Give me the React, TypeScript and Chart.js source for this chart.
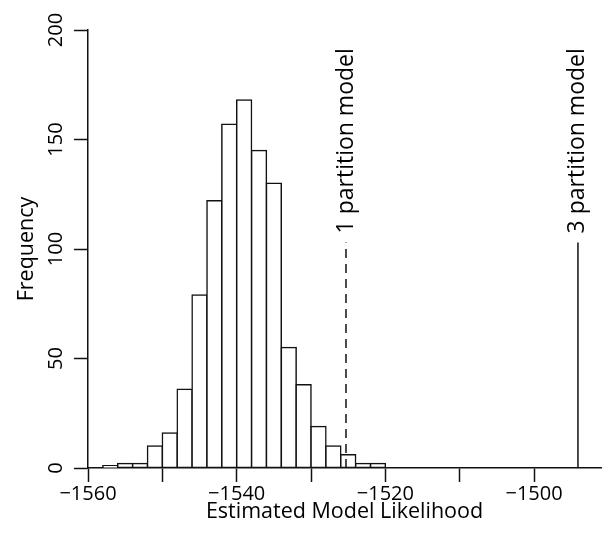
import React, { useEffect, useRef } from 'react';
import { Chart, registerables } from 'chart.js';

Chart.register(...registerables);

// Histogram bins (left edge of each 2-unit bin) and their frequencies
const binStarts = [-1558, -1556, -1554, -1552, -1550, -1548, -1546, -1544, -1542, -1540, -1538, -1536, -1534, -1532, -1530, -1528, -1526, -1524, -1522];
const binWidth = 2;
const frequencies = [1, 2, 2, 10, 16, 36, 79, 122, 157, 168, 145, 130, 55, 38, 19, 10, 6, 2, 2];

// Axis ticks
const xTickValues = [-1560, -1550, -1540, -1530, -1520, -1510, -1500];
const xTickLabels = ['\u22121560', '', '\u22121540', '', '\u22121520', '', '\u22121500'];
const yTickValues = [0, 50, 100, 150, 200];
const yTickLabels = ['0', '50', '100', '150', '200'];

// Reference models
const modelNames = ['1 partition model', '3 partition model'];
const modelLikelihoods = [-1525.3, -1494.1];
const modelLineTop = 103;

const FONT = '"Open Sans", sans-serif';
const LINE_W = 1.5;

export default function App() {
  const ref = useRef<HTMLCanvasElement | null>(null);

  useEffect(() => {
    if (!ref.current) return;

    const labelPlugin = {
      id: 'modelLabels',
      afterDatasetsDraw(chart: any) {
        const { ctx, scales } = chart;
        const x = scales.x;
        const y = scales.y;
        ctx.save();
        ctx.fillStyle = '#000';
        ctx.font = `23px ${FONT}`;
        ctx.textAlign = 'left';
        ctx.textBaseline = 'middle';
        modelNames.forEach((name, i) => {
          const px = x.getPixelForValue(modelLikelihoods[i]);
          const py = y.getPixelForValue(modelLineTop) - 9;
          ctx.save();
          ctx.translate(px, py);
          ctx.rotate(-Math.PI / 2);
          ctx.fillText(name, 0, 0);
          ctx.restore();
        });
        ctx.restore();
      },
    };

    const chart = new Chart(ref.current, {
      type: 'bar',
      data: {
        datasets: [
          {
            type: 'bar',
            data: binStarts.map((s, i) => ({ x: s + binWidth / 2, y: frequencies[i] })),
            backgroundColor: '#ffffff',
            borderColor: '#111111',
            borderWidth: LINE_W,
            inflateAmount: LINE_W / 2,
            borderSkipped: false,
            barPercentage: 1,
            categoryPercentage: 1,
            order: 2,
          } as any,
          {
            type: 'line',
            data: [
              { x: modelLikelihoods[0], y: 0 },
              { x: modelLikelihoods[0], y: modelLineTop },
            ],
            borderColor: '#111111',
            borderWidth: LINE_W,
            borderDash: [9, 6],
            pointRadius: 0,
            fill: false,
            order: 1,
          } as any,
          {
            type: 'line',
            data: [
              { x: modelLikelihoods[1], y: 0 },
              { x: modelLikelihoods[1], y: modelLineTop },
            ],
            borderColor: '#111111',
            borderWidth: LINE_W,
            pointRadius: 0,
            fill: false,
            order: 1,
          } as any,
        ],
      },
      options: {
        responsive: false,
        animation: false,
        devicePixelRatio: 1,
        layout: { padding: { top: 30, right: 1, left: 0, bottom: 0 } },
        plugins: { legend: { display: false }, tooltip: { enabled: false } },
        scales: {
          x: {
            type: 'linear',
            min: -1560,
            max: -1491,
            offset: false,
            afterBuildTicks: (s: any) => {
              s.ticks = xTickValues.map((v) => ({ value: v }));
            },
            afterFit: (s: any) => {
              s.height = 73;
            },
            grid: {
              display: true,
              drawOnChartArea: false,
              drawTicks: true,
              tickLength: 14,
              tickColor: '#111',
              tickWidth: LINE_W,
              offset: false,
            },
            border: { display: true, color: '#111', width: LINE_W },
            ticks: {
              autoSkip: false,
              maxRotation: 0,
              minRotation: 0,
              padding: 0,
              color: '#000',
              font: { family: FONT, size: 20 },
              callback: (v: any) => {
                const idx = xTickValues.indexOf(Number(v));
                return idx >= 0 ? xTickLabels[idx] : '';
              },
            },
            title: {
              display: true,
              text: 'Estimated Model Likelihood',
              color: '#000',
              font: { family: FONT, size: 21.5 },
              padding: { top: 0, bottom: 16 },
            },
          },
          y: {
            type: 'linear',
            min: 0,
            max: 200,
            afterBuildTicks: (s: any) => {
              s.ticks = yTickValues.map((v) => ({ value: v }));
            },
            afterFit: (s: any) => {
              s.width = 88;
            },
            grid: {
              display: true,
              drawOnChartArea: false,
              drawTicks: true,
              tickLength: 14,
              tickColor: '#111',
              tickWidth: LINE_W,
            },
            border: { display: true, color: '#111', width: LINE_W },
            ticks: {
              autoSkip: false,
              minRotation: 90,
              maxRotation: 90,
              crossAlign: 'center',
              padding: 1,
              color: '#000',
              font: { family: FONT, size: 20 },
              callback: (v: any) => {
                const idx = yTickValues.indexOf(Number(v));
                return idx >= 0 ? yTickLabels[idx] : '';
              },
            },
            title: {
              display: true,
              text: 'Frequency',
              color: '#000',
              font: { family: FONT, size: 21.5 },
              padding: { top: 14, bottom: 0 },
            },
          },
        },
      } as any,
      plugins: [labelPlugin],
    });

    return () => chart.destroy();
  }, []);

  return (
    <div style={{ position: 'absolute', left: 0, top: 0, width: 602, height: 541, background: '#fff' }}>
      <canvas ref={ref} width={602} height={541} style={{ display: 'block', width: 602, height: 541 }} />
    </div>
  );
}
